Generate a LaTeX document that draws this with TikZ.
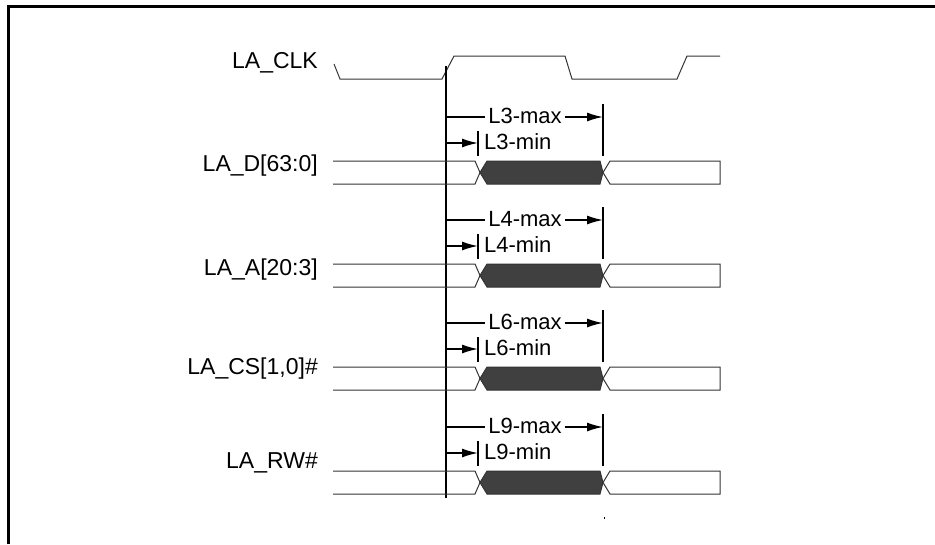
\documentclass[tikz,border=0pt]{standalone}
\usepackage{fontspec}
\setmainfont{Liberation Sans}
\usepackage{xcolor}
\usepackage{tikz}
\usetikzlibrary{calc, arrows.meta, positioning}
\definecolor{busfill}{HTML}{404040}

\begin{document}
\begin{tikzpicture}[x=1pt, y=-1pt, >={Latex[length=16pt,width=9pt]},
    font=\fontsize{23}{27}\selectfont,
    wave/.style={line width=1pt, black!80},
    dim/.style={line width=1.5pt},
    dimtext/.style={font=\fontsize{22}{26}\selectfont, inner sep=3pt}]
    \useasboundingbox (0,0) rectangle (935,544);
    
    % Khung
    \draw[line width=3pt] (8.5,544) -- (8.5,6.3) -- (935,6.3);
    
    % Xung nhịp
    \node[anchor=base east, inner sep=0pt] (clk) at (318,68) {LA\_CLK};
    \draw[wave] (334,64) -- (340,79) -- (442,79) -- (454,56) -- (565,56)
        -- (572,79) -- (677,79) -- (687,56) -- (720,56);
    
    % Đường mốc
    \coordinate (reftop) at (446,66);
    \coordinate (refbot) at (446,498);
    \draw[line width=2pt] (reftop) -- (refbot);
    
    % Các tín hiệu
    \foreach \t/\ly/\n/\lbl in {161/171/3/{LA\_D[63:0]}, 264/275/4/{LA\_A[20:3]},
        367/374/6/{LA\_CS[1,0]\#}, 471/468/9/{LA\_RW\#}} {
        \node[anchor=base east, inner sep=0pt] (sig\n) at (318,\ly) {\lbl};
        \draw[wave] (333,\t) -- (475,\t) -- (480,{\t+11.5}) -- (475,{\t+23}) -- (333,{\t+23});
        \filldraw[wave, fill=busfill] (480,{\t+11.5}) -- (487,\t) -- (600,\t) -- (603,{\t+11.5})
            -- (600,{\t+23}) -- (487,{\t+23}) -- cycle;
        \draw[wave] (603,{\t+11.5}) -- (610,\t) -- (720,\t) -- (720,{\t+23}) -- (610,{\t+23}) -- cycle;
        
        % max
        \node[dimtext] (max\n) at (525,{\t-45}) {L\n-max};
        \draw[dim] (446,{\t-44}) -- (446,{\t-44} -| max\n.west);
        \draw[dim] (603,{\t-57}) -- (603,{\t-5});
        \draw[dim, ->] (603,{\t-44} -| max\n.east) -- (603,{\t-44});
        
        % min
        \node[dimtext, anchor=west] (min\n) at (481,{\t-19}) {L\n-min};
        \draw[dim] (478,{\t-30}) -- (478,{\t-5});
        \draw[dim, ->] (446,{\t-18}) -- (478,{\t-18});
    }
    
    \fill (603.5,516.5) rectangle (605,518.5);
\end{tikzpicture}
\end{document}
